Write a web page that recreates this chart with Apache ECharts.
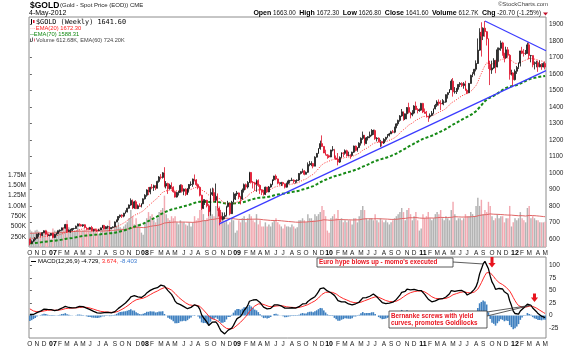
<!DOCTYPE html>
<html><head><meta charset="utf-8">
<script src="https://cdn.jsdelivr.net/npm/echarts@6/dist/echarts.min.js"></script>
<style>html,body{margin:0;padding:0;background:#fff}#c{width:575px;height:348px}</style>
</head><body><div id="c"></div>
<script>
// ---------------- DATA (weekly, Oct 6 2006 .. May 4 2012) ----------------
const firstWeek = '2006-10-06';
const closes = [
573,584,595,603,628,628,620,637,648,628,620,621,632,
608,626,632,648,652,666,664,686,645,652,654,662,662,676,690,685,678,685,668,663,657,668,650,656,653,650,653,666,681,662,673,673,660,668,672,702,714,735,743,737,755,763,785,805,833,787,824,783,800,796,812,842,
864,896,883,912,910,922,907,948,975,972,1000,920,935,904,924,913,885,853,880,883,924,888,901,869,904,929,930,962,957,928,912,864,785,828,833,800,764,869,880,833,857,785,737,718,735,742,795,814,752,822,840,872,
878,853,840,895,928,914,941,1002,942,939,930,953,924,897,882,870,913,884,914,929,958,980,963,937,933,941,933,913,937,951,954,956,948,953,956,996,1007,1012,991,1003,1050,1052,1056,1040,1095,1118,1147,1177,1160,1120,1110,1104,
1096,1138,1140,1090,1083,1065,1093,1120,1118,1134,1103,1107,1105,1125,1162,1136,1153,1180,1209,1228,1177,1212,1219,1229,1256,1256,1207,1210,1189,1189,1181,1203,1215,1227,1236,1249,1246,1275,1297,1318,1345,1370,1327,1358,1396,1367,1352,1362,1405,1384,1378,1380,1421,
1369,1360,1343,1340,1348,1361,1388,1409,1429,1421,1418,1428,1429,1474,1486,1504,1556,1491,1493,1509,1536,1542,1529,1540,1500,1486,1542,1591,1601,1628,1663,1744,1852,1829,1877,1856,1813,1657,1624,1636,1682,1642,1746,1755,1788,1724,1697,1746,1713,1597,1606,1565,
1616,1639,1665,1739,1725,1724,1725,1776,1711,1711,1656,1663,1668,1643,1657,1642,1663,1641.6];
const opens = [
598,573,584,595,603,628,628,620,637,648,628,620,621,
632,608,626,632,648,652,666,664,686,645,652,654,662,662,676,690,685,678,685,668,663,657,668,650,656,653,650,653,666,681,662,673,673,660,668,672,702,714,735,743,737,755,763,785,805,833,787,824,783,800,796,812,
842,864,896,883,912,910,922,907,948,975,972,1000,920,935,904,924,913,885,853,880,883,924,888,901,869,904,929,930,962,957,928,912,864,785,828,833,800,764,869,880,833,857,785,737,718,735,742,795,814,752,822,840,
872,878,853,840,895,928,914,941,1002,942,939,930,953,924,897,882,870,913,884,914,929,958,980,963,937,933,941,933,913,937,951,954,956,948,953,956,996,1007,1012,991,1003,1050,1052,1056,1040,1095,1118,1147,1177,1160,1120,1110,
1104,1096,1138,1140,1090,1083,1065,1093,1120,1118,1134,1103,1107,1105,1125,1162,1136,1153,1180,1209,1228,1177,1212,1219,1229,1256,1256,1207,1210,1189,1189,1181,1203,1215,1227,1236,1249,1246,1275,1297,1318,1345,1370,1327,1358,1396,1367,1352,1362,1405,1384,1378,1380,
1421,1369,1360,1343,1340,1348,1361,1388,1409,1429,1421,1418,1428,1429,1474,1486,1504,1556,1491,1493,1509,1536,1542,1529,1540,1500,1486,1542,1591,1601,1628,1663,1744,1852,1829,1877,1856,1813,1657,1624,1636,1682,1642,1746,1755,1788,1724,1697,1746,1713,1597,1606,
1565,1616,1639,1665,1739,1725,1724,1725,1776,1711,1711,1656,1663,1668,1643,1657,1642,1663];
const highs = [
600,590,598,610,630,635,632,640,651,650,632,626,635,
636,628,636,650,656,668,670,690,688,656,658,665,666,680,692,694,690,688,688,672,668,672,678,660,662,656,660,668,684,684,676,680,676,670,675,705,716,738,746,748,757,772,788,808,845,838,830,834,808,815,815,845,
870,900,914,915,932,928,925,952,980,992,1004,1034,950,940,934,942,918,890,885,890,930,930,905,906,908,932,948,965,990,962,935,918,867,840,840,836,810,905,910,905,935,875,790,775,760,760,800,830,820,830,882,875,
890,880,860,905,935,935,950,1006,1005,950,945,960,960,930,900,896,916,914,920,935,960,982,990,965,945,945,945,935,940,958,956,970,960,956,960,998,1010,1025,1016,1008,1063,1072,1070,1060,1100,1120,1150,1195,1227,1162,1140,1113,
1110,1140,1162,1145,1105,1120,1100,1125,1125,1142,1140,1128,1112,1128,1165,1165,1155,1185,1215,1250,1230,1217,1222,1250,1265,1262,1262,1216,1215,1200,1193,1210,1218,1235,1242,1255,1260,1280,1300,1322,1350,1387,1372,1360,1398,1425,1370,1380,1410,1432,1392,1390,1424,
1424,1390,1375,1345,1360,1375,1390,1418,1440,1445,1440,1447,1440,1476,1488,1508,1567,1575,1520,1515,1538,1550,1549,1550,1558,1510,1545,1595,1610,1630,1682,1815,1877,1913,1882,1921,1860,1815,1680,1680,1695,1685,1760,1760,1802,1795,1728,1765,1763,1720,1625,1610,
1627,1648,1670,1740,1764,1750,1745,1790,1792,1715,1713,1675,1680,1680,1680,1665,1670,1672.3];
const lows = [
560,570,580,584,600,612,612,618,635,624,612,614,618,
603,605,621,628,642,650,656,662,636,640,636,648,654,660,675,675,674,672,664,654,652,655,646,644,648,642,646,652,664,656,658,662,645,658,663,670,700,712,725,726,730,752,760,782,800,780,782,780,780,795,790,810,
838,855,865,870,900,890,895,905,940,960,965,912,905,872,898,902,880,850,850,862,880,880,864,860,865,880,920,915,948,918,900,857,775,780,805,790,737,740,860,824,820,770,681,700,712,718,735,790,742,750,820,835,
860,840,808,836,880,897,905,938,935,905,890,885,915,872,865,862,865,878,882,910,925,950,955,930,925,920,925,905,910,930,935,950,935,935,940,950,990,1000,985,990,1000,1040,1040,1027,1040,1093,1115,1140,1158,1120,1105,1085,
1090,1095,1130,1085,1078,1045,1060,1090,1096,1110,1100,1100,1085,1100,1120,1130,1128,1150,1165,1200,1166,1175,1196,1210,1222,1230,1200,1190,1185,1157,1160,1175,1190,1210,1220,1235,1240,1240,1270,1285,1310,1340,1316,1320,1325,1360,1330,1343,1355,1380,1360,1370,1376,
1362,1360,1335,1309,1330,1344,1355,1385,1400,1408,1380,1415,1410,1425,1450,1484,1502,1462,1480,1478,1505,1520,1520,1510,1497,1478,1483,1540,1580,1590,1615,1660,1740,1705,1805,1825,1772,1630,1532,1600,1630,1604,1640,1675,1740,1710,1670,1695,1700,1565,1590,1522,
1560,1600,1630,1645,1720,1705,1715,1722,1688,1670,1640,1627,1640,1612,1640,1625,1640,1626.8];
// weekly volume, thousands
const volumes = [
420,380,350,400,420,380,360,300,400,420,380,250,200,
450,400,380,420,400,450,430,550,650,480,450,420,380,400,480,430,380,400,420,430,380,380,450,400,380,400,320,380,430,480,450,500,650,400,380,550,520,600,480,450,500,550,600,700,900,750,550,700,550,500,350,300,
600,700,850,750,800,650,600,700,850,900,950,1250,800,700,650,750,700,750,600,550,650,600,600,550,520,600,500,600,750,650,700,900,1100,800,650,700,900,1200,800,750,1000,900,1000,850,700,600,650,550,600,700,650,350,
400,650,600,700,750,600,700,800,750,650,600,800,550,650,500,500,600,500,550,500,600,650,700,600,550,500,450,550,500,500,480,550,500,450,480,650,650,700,650,600,800,700,700,650,800,750,800,850,1000,900,750,400,
350,700,750,800,700,900,650,700,600,650,600,650,650,550,700,700,600,750,900,1000,900,700,650,700,700,650,800,650,600,700,650,600,650,600,550,600,650,700,750,800,850,950,850,650,900,950,800,650,750,850,650,400,450,
800,700,750,850,700,650,700,800,850,800,900,700,650,750,700,650,900,1100,800,650,700,700,650,700,800,750,750,850,800,750,1000,1200,1000,1150,800,900,850,1100,1000,750,650,700,800,700,750,750,600,700,700,1000,500,600,
700,650,700,850,700,650,600,950,1000,700,750,700,650,650,600,600,600,612.68];
const ema20Start = 608, ema70Start = 572, volEmaStart = 330;
const ema12Start = 592, ema26Start = 588, signalStart = 16;
// trend lines: [week index, price]
const upperTrend = [[257, 1921], [291.5, 1740]];
const lowerTrend = [[107, 690], [291.5, 1620]];
// axis ticks
const priceTicks = [600,700,800,900,1000,1100,1200,1300,1400,1500,1600,1700,1800,1900];
const volTicks = [250,500,750,1000,1250,1500,1750];
const volTickLabels = ['250K','500K','750K','1.00M','1.25M','1.50M','1.75M'];
const macdTicks = [-25,0,25,50,75,100];
const monthLetters = ['J','F','M','A','M','J','J','A','S','O','N','D'];

// ---------------- BUILD ----------------
const N = closes.length;
const dates = [];
const t0 = Date.parse(firstWeek + 'T00:00:00Z');
for (let i = 0; i < N; i++) dates.push(new Date(t0 + i * 7 * 86400000).toISOString().slice(0, 10));
function isMonthStart(i) { return i === 0 || dates[i].slice(5, 7) !== dates[i - 1].slice(5, 7); }
function ema(src, n, start) { const k = 2 / (n + 1); let e = start; return src.map(v => (e = e + k * (v - e))); }
const ema20 = ema(closes, 20, ema20Start);
const ema70 = ema(closes, 70, ema70Start);
const volEma = ema(volumes, 60, volEmaStart);
const e12 = ema(closes, 12, ema12Start), e26 = ema(closes, 26, ema26Start);
const macd = e12.map((v, i) => v - e26[i]);
const signal = ema(macd, 9, signalStart);
const hist = macd.map((v, i) => v - signal[i]);
const candles = closes.map((c, i) => [opens[i], c, lows[i], highs[i]]);
const volData = volumes.map((v, i) => ({ value: v, itemStyle: { color: (i > 0 && closes[i] < closes[i - 1]) ? '#f2a9b1' : '#b3b3b3' } }));

const FONT = '"Liberation Sans", Arial, sans-serif';
const L = 29, W = 517;
const xLabel = {
  interval: (i) => isMonthStart(i),
  formatter: (v) => { const m = +v.slice(5, 7); return m === 1 ? '{y|' + v.slice(2, 4) + '}' : monthLetters[m - 1]; },
  fontSize: 6.5, color: '#222', fontFamily: FONT, margin: 3,
  rich: { y: { fontWeight: 'bold', fontSize: 7, color: '#000', fontFamily: FONT } }
};
const plain = v => String(v);
const chart = echarts.init(document.getElementById('c'), null, { width: 575, height: 348 });
chart.setOption({
  animation: false,
  backgroundColor: '#fff',
  grid: [
    { left: L, top: 17, width: W, height: 230, show: true, borderColor: '#8c8c8c', borderWidth: 1, backgroundColor: 'transparent' },
    { left: L, top: 257, width: W, height: 81, show: true, borderColor: '#8c8c8c', borderWidth: 1, backgroundColor: 'transparent' }
  ],
  xAxis: [
    { type: 'category', gridIndex: 0, data: dates, axisLine: { show: false }, axisTick: { show: false }, axisLabel: xLabel, splitLine: { show: false } },
    { type: 'category', gridIndex: 1, data: dates, axisLine: { show: false }, axisTick: { show: false }, axisLabel: xLabel, splitLine: { show: false } },
    { type: 'value', gridIndex: 0, min: -0.5, max: N - 0.5, show: false },
    { type: 'value', gridIndex: 1, min: -0.5, max: N - 0.5, show: false }
  ],
  yAxis: [
    { type: 'value', gridIndex: 0, position: 'right', min: 550, max: 1945, splitLine: { show: false }, axisLine: { show: false },
      axisTick: { show: true, length: 2, customValues: priceTicks, lineStyle: { color: '#666' } },
      axisLabel: { customValues: priceTicks, formatter: plain, fontSize: 6.5, color: '#222', fontFamily: FONT, margin: 3 } },
    { type: 'value', gridIndex: 0, position: 'left', min: 0, max: 5600, splitLine: { show: false }, axisLine: { show: false },
      axisTick: { show: false },
      axisLabel: { customValues: volTicks, formatter: v => volTickLabels[volTicks.indexOf(v)], fontSize: 6.5, color: '#222', fontFamily: FONT, margin: 3 } },
    { type: 'value', gridIndex: 1, position: 'right', min: -45, max: 117, splitLine: { show: false }, axisLine: { show: false },
      axisTick: { show: true, length: 2, customValues: macdTicks, lineStyle: { color: '#666' } },
      axisLabel: { customValues: macdTicks, formatter: plain, fontSize: 6.5, color: '#222', fontFamily: FONT, margin: 3 } }
  ],
  series: [
    { type: 'bar', xAxisIndex: 0, yAxisIndex: 1, data: volData, barCategoryGap: '18%', z: 1, silent: true },
    { type: 'line', xAxisIndex: 0, yAxisIndex: 1, data: volEma, symbol: 'none', lineStyle: { color: '#e06666', width: 1 }, z: 2 },
    { type: 'line', xAxisIndex: 0, yAxisIndex: 0, data: ema70, symbol: 'none', lineStyle: { color: '#168a16', width: 2, type: [3, 2] }, z: 3 },
    { type: 'line', xAxisIndex: 0, yAxisIndex: 0, data: ema20, symbol: 'none', lineStyle: { color: '#ff3030', width: 1, type: [1, 1.5] }, z: 3 },
    { type: 'candlestick', xAxisIndex: 0, yAxisIndex: 0, data: candles, barWidth: '75%', z: 4,
      itemStyle: { color: '#7a7a7a', borderColor: '#111', color0: '#e0102a', borderColor0: '#e0102a', borderWidth: 0.8 } },
    { type: 'line', xAxisIndex: 2, yAxisIndex: 0, data: upperTrend, symbol: 'none', lineStyle: { color: '#3b3bff', width: 1.2 }, z: 5 },
    { type: 'line', xAxisIndex: 2, yAxisIndex: 0, data: lowerTrend, symbol: 'none', lineStyle: { color: '#3b3bff', width: 1.2 }, z: 5 },
    { type: 'bar', xAxisIndex: 1, yAxisIndex: 2, data: hist, barCategoryGap: '10%', itemStyle: { color: '#3f80c0' }, z: 1 },
    { type: 'line', xAxisIndex: 1, yAxisIndex: 2, data: signal, symbol: 'none', lineStyle: { color: '#ff2a2a', width: 1 }, z: 3 },
    { type: 'line', xAxisIndex: 1, yAxisIndex: 2, data: macd, symbol: 'none', lineStyle: { color: '#000', width: 1.3 }, z: 4 }
  ]
});

// ---------------- TEXT / ANNOTATIONS ----------------
function P(i, v) { return chart.convertToPixel({ xAxisIndex: 3, yAxisIndex: 2 }, [i, v]); }
function arrow(i, vTop, vTip) {
  const a = P(i, vTop), b = P(i, vTip), x = a[0], y0 = a[1], y1 = b[1], hh = 4.5, hw = 3.6, sw = 1.5;
  return { type: 'polygon', z: 100, shape: { points: [[x - sw, y0], [x + sw, y0], [x + sw, y1 - hh], [x + hw, y1 - hh], [x, y1], [x - hw, y1 - hh], [x - sw, y1 - hh]] }, style: { fill: '#e8141e' } };
}
const peak = P(256, macd[256]);
const bump = P(283, macd[283]);
const g = [
  { type: 'text', x: 30, y: 1, style: { text: '$GOLD', font: 'bold 8.5px ' + FONT, fill: '#000' } },
  { type: 'text', x: 60, y: 2.5, style: { text: '(Gold - Spot Price (EOD)) CME', font: '6px ' + FONT, fill: '#222' } },
  { type: 'text', x: 29, y: 9.5, style: { text: '4-May-2012', font: '7px ' + FONT, fill: '#000' } },
  { type: 'text', x: 548, y: 1.5, style: { text: '©StockCharts.com', font: '6px ' + FONT, fill: '#444', align: 'right' } },
  { type: 'text', x: 541, y: 9.5, style: {
      text: '{b|Open} 1663.00  {b|High} 1672.30  {b|Low} 1626.80  {b|Close} 1641.60  {b|Volume} 612.7K  {b|Chg} -20.70 (-1.25%)',
      font: '6.3px ' + FONT, fill: '#111', align: 'right', rich: { b: { font: 'bold 7px ' + FONT, fill: '#000' } } } },
  { type: 'polygon', shape: { points: [[543, 12.5], [548, 12.5], [545.5, 15.5]] }, style: { fill: '#c0102a' } },
  // main legend
  { type: 'rect', shape: { x: 31, y: 19, width: 1, height: 5 }, style: { fill: '#000' } },
  { type: 'rect', shape: { x: 33, y: 20, width: 1.5, height: 3 }, style: { fill: '#e0102a' } },
  { type: 'text', x: 36, y: 18.5, style: { text: '$GOLD (Weekly) 1641.60', font: '6.8px "DejaVu Sans Mono", monospace', fill: '#000' } },
  { type: 'text', x: 30, y: 25.5, style: { text: '···EMA(20) 1672.30', font: '5.8px ' + FONT, fill: '#ff2020' } },
  { type: 'text', x: 30, y: 31.5, style: { text: '--EMA(70) 1588.31', font: '5.8px ' + FONT, fill: '#138a13' } },
  { type: 'rect', shape: { x: 30, y: 38.5, width: 1, height: 3 }, style: { fill: '#666' } },
  { type: 'rect', shape: { x: 32, y: 37.5, width: 1, height: 4 }, style: { fill: '#666' } },
  { type: 'rect', shape: { x: 34, y: 38.5, width: 1, height: 3 }, style: { fill: '#e07080' } },
  { type: 'text', x: 36, y: 37.5, style: { text: 'Volume 612.68K, EMA(60) 724.20K', font: '5.6px ' + FONT, fill: '#444' } },
  // MACD legend
  { type: 'rect', shape: { x: 31, y: 261, width: 5, height: 1 }, style: { fill: '#000' } },
  { type: 'text', x: 38, y: 258.5, style: { text: 'MACD(12,26,9) -4.729, {r|3.674,} {bl|-8.403}', font: '6px ' + FONT, fill: '#000',
      rich: { r: { fill: '#ff2020', font: '6px ' + FONT }, bl: { fill: '#3a7ad0', font: '6px ' + FONT } } } },
  // annotations
  { type: 'line', z: 90, shape: { x1: 453, y1: 262, x2: peak[0], y2: peak[1] }, style: { stroke: '#333', lineWidth: 0.8 } },
  { type: 'rect', z: 95, shape: { x: 317, y: 258, width: 136, height: 9 }, style: { fill: '#fff', stroke: '#333', lineWidth: 0.8 } },
  { type: 'text', z: 96, x: 319, y: 259.3, style: { text: "Euro hype blows up - momo's executed", font: 'bold 6.3px ' + FONT, fill: '#e8141e' } },
  arrow(261, 117, 96),
  { type: 'line', z: 90, shape: { x1: 487, y1: 312, x2: bump[0], y2: bump[1] }, style: { stroke: '#333', lineWidth: 0.8 } },
  { type: 'line', z: 90, shape: { x1: 487, y1: 316, x2: bump[0], y2: bump[1] }, style: { stroke: '#333', lineWidth: 0.8 } },
  { type: 'rect', z: 95, shape: { x: 389, y: 311, width: 98, height: 17 }, style: { fill: '#fff', stroke: '#333', lineWidth: 0.8 } },
  { type: 'text', z: 96, x: 391, y: 312.3, style: { text: 'Bernanke screws with yield\ncurves, promotes Goldilocks', font: 'bold 6.3px ' + FONT, lineHeight: 7.6, fill: '#e8141e' } },
  arrow(285, 44, 27)
];
chart.setOption({ graphic: g });
</script></body></html>
